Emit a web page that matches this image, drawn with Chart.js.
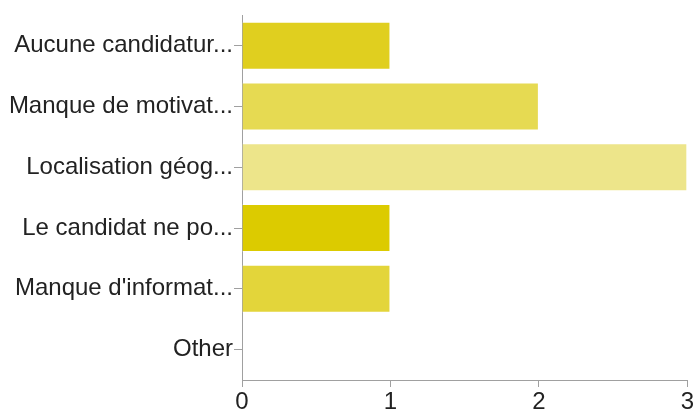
<!DOCTYPE html>
<html>
<head>
<meta charset="utf-8">
<script src="https://cdn.jsdelivr.net/npm/chart.js@4/dist/chart.umd.min.js"></script>
<style>
  html, body { margin: 0; padding: 0; background: #fff; overflow: hidden; }
  #wrap { width: 695px; height: 420px; position: relative; }
</style>
</head>
<body>
<div id="wrap"><canvas id="chart"></canvas></div>
<script>
const labels = [
  'Aucune candidatur...',
  'Manque de motivat...',
  'Localisation géog...',
  'Le candidat ne po...',
  "Manque d'informat...",
  'Other'
];
const counts = [1, 2, 3, 1, 1, 0];
const barColors = ['#e0cf1f', '#e6da52', '#ede58a', '#dccb00', '#e3d53a', '#e8dc66'];
const xTicks = [0, 1, 2, 3];

const axisColor = '#a0a0a0';
const font = { family: 'Liberation Sans, Arial, sans-serif', size: 24 };

new Chart(document.getElementById('chart'), {
  type: 'bar',
  data: {
    labels: labels,
    datasets: [{
      data: counts,
      backgroundColor: barColors,
      borderColor: 'rgba(255,255,255,0.6)',
      borderWidth: 1,
      barPercentage: 0.79,
      categoryPercentage: 1
    }]
  },
  options: {
    indexAxis: 'y',
    responsive: true,
    maintainAspectRatio: false,
    animation: false,
    layout: { padding: { top: 15, left: 0, right: 0, bottom: 0 } },
    plugins: { legend: { display: false }, tooltip: { enabled: false } },
    scales: {
      x: {
        min: 0,
        max: 3,
        afterBuildTicks: axis => { axis.ticks = xTicks.map(v => ({ value: v })); },
        afterFit: axis => { axis.height = 40; },
        grid: { drawOnChartArea: false, drawTicks: true, tickLength: 7, color: axisColor },
        border: { color: axisColor, width: 1 },
        ticks: { color: '#222', font: font, padding: 1 }
      },
      y: {
        afterFit: axis => { axis.width = 242; },
        grid: { drawOnChartArea: false, drawTicks: true, tickLength: 8, color: axisColor, offset: false },
        border: { color: axisColor, width: 1 },
        ticks: { color: '#222', font: font, padding: 1 }
      }
    }
  }
});
</script>
</body>
</html>
